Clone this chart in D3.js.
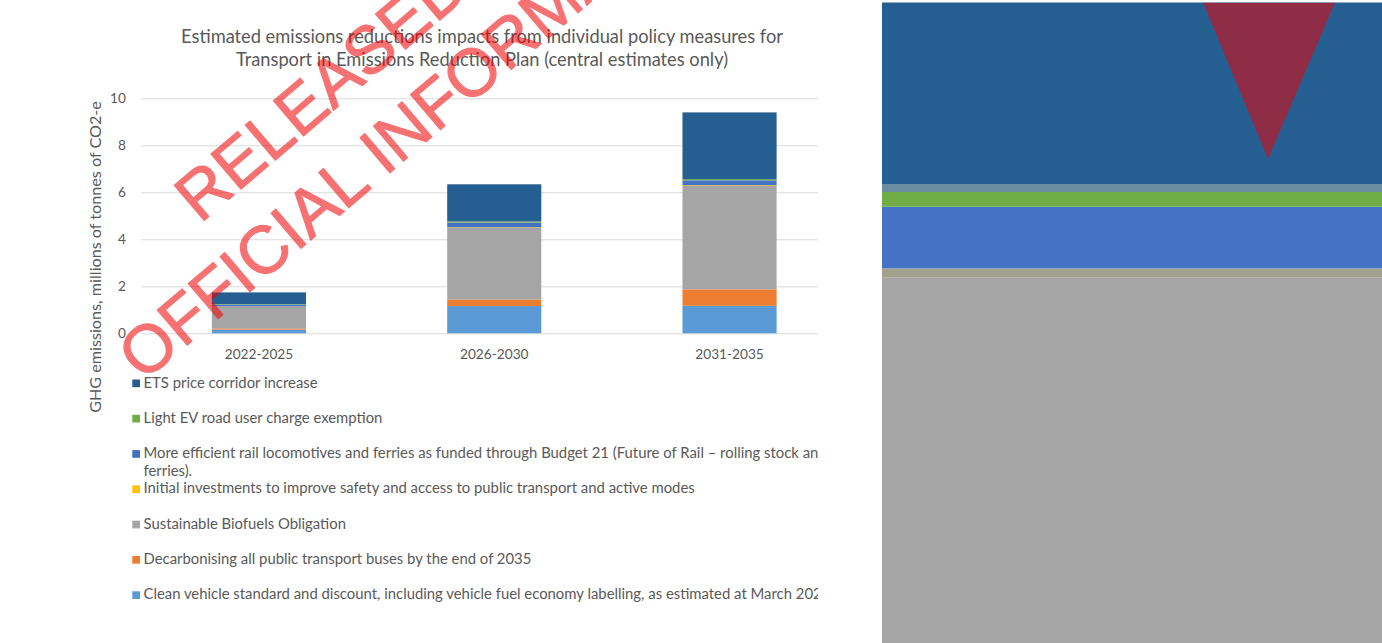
<!DOCTYPE html>
<html><head><meta charset="utf-8">
<script src="https://cdnjs.cloudflare.com/ajax/libs/d3/7.8.5/d3.min.js"></script>
<style>html,body{margin:0;padding:0;background:#fff;overflow:hidden}</style>
</head><body>
<svg id="c" width="1382" height="643"></svg>
<script>
// ---------- data ----------
const categories = ["2022-2025", "2026-2030", "2031-2035"];
const yTicks = [0, 2, 4, 6, 8, 10];
// series, stacked bottom -> top
const cleanVehicle   = [0.16, 1.16, 1.17];
const busesDecarb    = [0.05, 0.28, 0.70];
const biofuels       = [0.95, 3.05, 4.40];
const initialInvest  = [0.00, 0.02, 0.03];
const railFerries    = [0.06, 0.20, 0.21];
const lightEV        = [0.02, 0.05, 0.05];
const etsCorridor    = [0.50, 1.58, 2.84];
const seriesKeys = ["clean", "buses", "bio", "initial", "rail", "ev", "ets"];
const seriesLabels = {
  ets: "ETS price corridor increase",
  ev: "Light EV road user charge exemption",
  rail: "More efficient rail locomotives and ferries as funded through Budget 21 (Future of Rail \u2013 rolling stock and|ferries).",
  initial: "Initial investments to improve safety and access to public transport and active modes",
  bio: "Sustainable Biofuels Obligation",
  buses: "Decarbonising all public transport buses by the end of 2035",
  clean: "Clean vehicle standard and discount, including vehicle fuel economy labelling, as estimated at March 2022"
};
const legendOrder = ["ets", "ev", "rail", "initial", "bio", "buses", "clean"];
const titleLines = ["Estimated emissions reductions impacts from individual policy measures for",
                    "Transport in Emissions Reduction Plan (central estimates only)"];
const yAxisTitle = "GHG emissions, millions of tonnes of CO2-e";
const watermarkLines = ["RELEASED", "OFFICIAL INFORMATION"];

// ---------- styles ----------
const colors = {ets:"#255e91", ev:"#70ad47", rail:"#4472c4", initial:"#ffc000", bio:"#a5a5a5", buses:"#ed7d31", clean:"#5b9bd5"};
const insetColors = Object.assign({}, colors, {initial:"#a1a28d"});
const textColor = "#595959";
const FONT = "Lato, 'Open Sans', sans-serif";

const table = categories.map((c, i) => ({
  cat: c, clean: cleanVehicle[i], buses: busesDecarb[i], bio: biofuels[i],
  initial: initialInvest[i], rail: railFerries[i], ev: lightEV[i], ets: etsCorridor[i]
}));
const stacked = d3.stack().keys(seriesKeys)(table);

const svg = d3.select("#c");

// font size fitting helper
function fitSize(str, target, family, weight) {
  const t = svg.append("text").attr("font-family", family).attr("font-size", 100)
    .attr("font-weight", weight || 400).text(str);
  const w = t.node().getComputedTextLength();
  t.remove();
  return 100 * target / w;
}

const defs = svg.append("defs");
defs.append("clipPath").attr("id", "mainClip").append("rect")
  .attr("x", 0).attr("y", 0).attr("width", 818).attr("height", 643);
defs.append("clipPath").attr("id", "insetClip").append("rect")
  .attr("x", 882).attr("y", 2.5).attr("width", 500).attr("height", 640.5);

const main = svg.append("g").attr("clip-path", "url(#mainClip)");

// ---------- scales ----------
const x = d3.scaleBand().domain(categories).range([141.3, 847.2]).padding(0);
const y = d3.scaleLinear().domain([0, 10]).range([333.3, 98.3]);
const barW = x.bandwidth() * 0.4;

const tickFs = fitSize("2022-2025", 68.5, FONT);

// y axis with gridlines
const yAxis = main.append("g").attr("transform", `translate(${x.range()[0]},0)`)
  .call(d3.axisLeft(y).tickValues(yTicks).tickSize(-(x.range()[1] - x.range()[0])).tickPadding(15.5).tickFormat(d3.format("d")));
yAxis.select(".domain").remove();
yAxis.selectAll("line").attr("stroke", "#d9d9d9").attr("stroke-width", 1);
yAxis.selectAll("text").attr("fill", textColor).attr("font-family", FONT).attr("font-size", tickFs);

// bars
main.append("g").selectAll("g").data(stacked).join("g")
  .attr("fill", d => colors[d.key])
  .selectAll("rect").data(d => d).join("rect")
  .attr("x", d => x(d.data.cat) + (x.bandwidth() - barW) / 2)
  .attr("width", barW)
  .attr("y", d => y(d[1]))
  .attr("height", d => Math.max(0, y(d[0]) - y(d[1])));

// x axis labels
const xAxis = main.append("g").attr("transform", `translate(0,${y(0)})`)
  .call(d3.axisBottom(x).tickSize(0).tickPadding(0));
xAxis.select(".domain").remove();
xAxis.selectAll("text").attr("y", 25.7).attr("dy", 0)
  .attr("fill", textColor).attr("font-family", FONT).attr("font-size", tickFs);

// title
const titleFs = fitSize(titleLines[0], 602, FONT);
main.append("g").selectAll("text").data(titleLines).join("text")
  .attr("x", 482).attr("y", (d, i) => 42.7 + i * 23.5)
  .attr("text-anchor", "middle").attr("fill", textColor)
  .attr("font-family", FONT).attr("font-size", titleFs).text(d => d);

// y axis title
const yTitleFs = fitSize(yAxisTitle, 312, FONT);
main.append("text").attr("transform", "translate(101,257) rotate(-90)")
  .attr("text-anchor", "middle").attr("fill", textColor)
  .attr("font-family", FONT).attr("font-size", yTitleFs).text(yAxisTitle);

// legend
const legFs = fitSize(seriesLabels.ev, 239, FONT);
const leg = main.append("g").selectAll("g").data(legendOrder).join("g")
  .attr("transform", (d, i) => `translate(0,${387.5 + i * 35.3})`);
leg.append("rect").attr("x", 132.3).attr("y", -8).attr("width", 7.7).attr("height", 7.7)
  .attr("fill", d => colors[d]);
leg.append("text").attr("x", 143.5).attr("y", 0).attr("fill", textColor)
  .attr("font-family", FONT).attr("font-size", legFs)
  .each(function (d) {
    const parts = seriesLabels[d].split("|");
    const t = d3.select(this);
    parts.forEach((p, j) => t.append("tspan").attr("x", 143.5).attr("dy", j === 0 ? 0 : 18).text(p));
  });

// watermark
const wmFs = 67;
const wm = main.append("g").attr("opacity", 0.55)
  .attr("transform", "translate(200,224) rotate(-40.4)");
wm.selectAll("text").data(watermarkLines).join("text")
  .attr("x", (d, i) => i === 0 ? 0 : -146)
  .attr("y", (d, i) => i === 0 ? 0 : 84)
  .attr("font-family", "'Liberation Sans', Arial, sans-serif").attr("font-size", wmFs)
  .attr("fill", "#f00000").attr("stroke", "#f00000").attr("stroke-width", 1.2)
  .attr("stroke-linejoin", "round").text(d => d);

// ---------- magnified inset of the 2031-2035 bar ----------
const inset = svg.append("g").attr("clip-path", "url(#insetClip)");
const insetY = d3.scaleLinear().domain([5.025, 7.205]).range([643, 2.5]);
const lastIdx = categories.length - 1;
inset.selectAll("rect.seg").data(stacked).join("rect").attr("class", "seg")
  .attr("x", 882).attr("width", 500)
  .attr("y", d => insetY(d[lastIdx][1]))
  .attr("height", d => Math.max(0, insetY(d[lastIdx][0]) - insetY(d[lastIdx][1])))
  .attr("fill", d => insetColors[d.key]);
// soft edge between green and dark blue segment
const evTop = stacked.find(s => s.key === "ev")[lastIdx][1];
inset.append("rect").attr("x", 882).attr("width", 500)
  .attr("y", insetY(evTop) - 8).attr("height", 8).attr("fill", "#6b8fa0");
// magnified watermark fragment
inset.append("path").attr("d", "M1203,2.5 L1335,2.5 L1268,159 Z")
  .attr("fill", "#f00000").attr("opacity", 0.52);
</script>
</body></html>
